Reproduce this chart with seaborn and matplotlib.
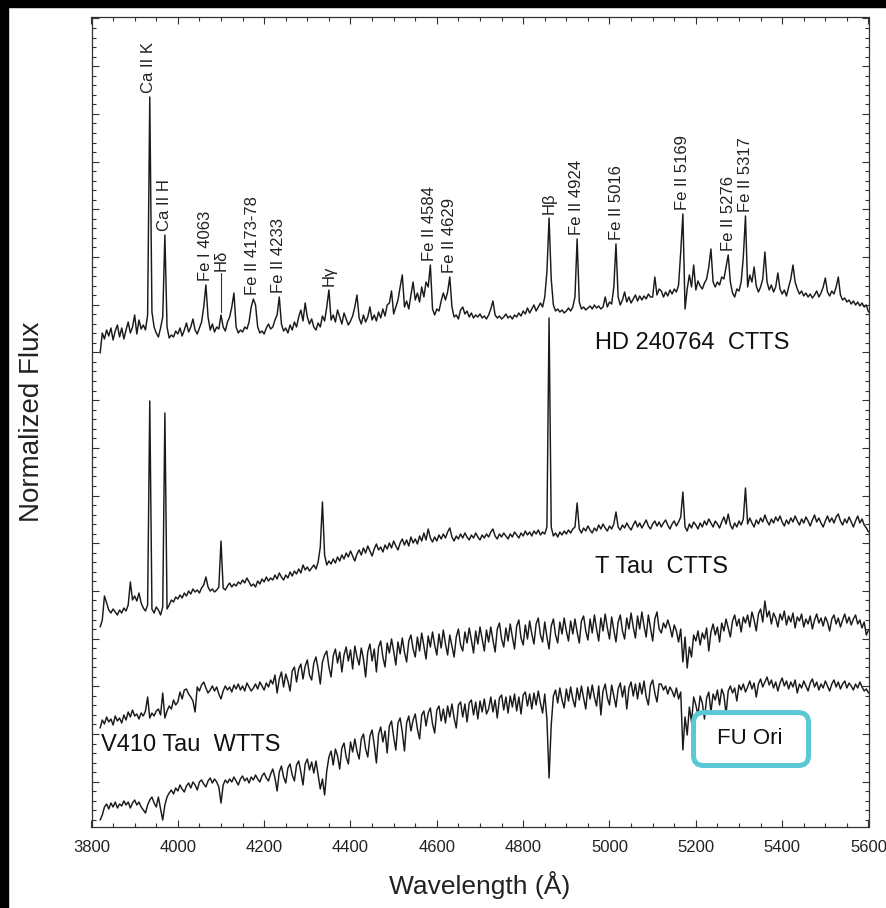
import numpy as np
import pandas as pd
import matplotlib
matplotlib.use("Agg")
import matplotlib.pyplot as plt
from matplotlib.patches import Rectangle, FancyBboxPatch
from matplotlib.ticker import MultipleLocator, FixedLocator, NullFormatter
import seaborn as sns

# Wavelength sampling of the spectra (Angstrom)
wave_start, wave_stop, wave_step = 3820, 5600, 5

# Offset-stacked normalized flux, one value per wavelength sample
hd240764 = [
    474, 494, 488, 497, 491, 499, 487, 496, 502, 490, 499, 488, 497, 505, 494, 500, 512, 493, 507, 498,
    502, 497, 512, 730, 515, 500, 494, 490, 499, 510, 592, 500, 489, 492, 490, 496, 493, 499, 491, 497,
    504, 495, 500, 508, 497, 493, 499, 505, 520, 542, 510, 497, 503, 495, 500, 498, 512, 500, 496, 505,
    510, 520, 534, 500, 494, 497, 495, 500, 498, 505, 520, 528, 522, 500, 494, 496, 493, 499, 503, 498,
    500, 507, 512, 530, 503, 496, 499, 494, 502, 497, 505, 500, 510, 517, 506, 524, 510, 503, 508, 500,
    497, 504, 500, 511, 506, 520, 537, 507, 512, 505, 517, 510, 503, 514, 508, 502, 506, 511, 520, 532,
    509, 503, 512, 505, 510, 520, 507, 512, 506, 515, 509, 518, 511, 522, 524, 536, 513, 520, 527, 540,
    552, 520, 526, 518, 532, 545, 527, 534, 525, 540, 530, 545, 540, 562, 518, 512, 518, 516, 526, 534,
    527, 535, 550, 520, 510, 512, 508, 517, 520, 513, 516, 510, 514, 509, 512, 510, 513, 509, 511, 508,
    512, 518, 526, 512, 509, 511, 508, 510, 513, 509, 511, 508, 512, 510, 514, 511, 516, 513, 519, 514,
    518, 522, 516, 520, 524, 520, 530, 555, 609, 548, 522, 516, 518, 515, 517, 514, 516, 519, 516, 520,
    530, 588, 525, 518, 520, 517, 519, 521, 518, 522, 519, 521, 518, 520, 530, 520, 525, 523, 540, 583,
    530, 522, 527, 535, 525, 530, 524, 528, 532, 526, 531, 527, 531, 528, 533, 530, 530, 550, 532, 538,
    536, 530, 535, 531, 537, 533, 538, 535, 542, 575, 613, 518, 538, 552, 540, 562, 537, 546, 541, 538,
    544, 548, 560, 578, 545, 540, 545, 542, 550, 548, 560, 572, 545, 534, 530, 538, 536, 545, 570, 611,
    540, 552, 545, 560, 541, 535, 540, 548, 575, 545, 537, 542, 535, 540, 554, 538, 533, 537, 531, 540,
    548, 562, 545, 538, 533, 536, 531, 534, 530, 533, 529, 532, 536, 530, 534, 540, 549, 535, 531, 536,
    533, 540, 550, 532, 527, 529, 525, 527, 523, 526, 522, 525, 521, 524, 520, 522, 515,
]

t_tau = [
    200, 207, 231, 224, 217, 214, 218, 215, 212, 217, 214, 219, 216, 222, 245, 227, 231, 226, 234, 224,
    219, 216, 222, 426, 218, 214, 220, 217, 212, 220, 414, 218, 222, 227, 225, 230, 228, 232, 229, 234,
    231, 236, 233, 238, 235, 237, 234, 239, 242, 250, 240, 236, 238, 235, 237, 240, 286, 239, 237, 241,
    244, 240, 243, 241, 245, 243, 247, 244, 249, 245, 241, 243, 240, 246, 243, 248, 245, 250, 246, 249,
    247, 252, 248, 254, 250, 247, 252, 249, 255, 251, 256, 253, 258, 254, 262, 257, 260, 256, 259, 262,
    258, 265, 280, 325, 272, 262, 266, 263, 268, 264, 270, 266, 272, 268, 274, 270, 276, 271, 266, 273,
    277, 272, 279, 274, 281, 276, 271, 278, 283, 277, 280, 275, 282, 278, 284, 279, 286, 281, 277, 284,
    288, 282, 287, 281, 290, 284, 288, 283, 291, 286, 294, 287, 298, 289, 285, 290, 286, 292, 288, 293,
    289, 295, 299, 290, 286, 291, 288, 293, 289, 294, 290, 287, 292, 289, 294, 290, 287, 292, 289, 293,
    290, 295, 298, 291, 288, 293, 290, 294, 291, 288, 293, 290, 295, 292, 289, 294, 291, 296, 292, 295,
    291, 296, 293, 297, 292, 295, 293, 300, 509, 300, 291, 294, 290, 295, 292, 296, 293, 297, 294, 298,
    300, 324, 298, 294, 299, 296, 301, 297, 294, 299, 296, 302, 298, 303, 299, 296, 301, 298, 303, 315,
    300, 297, 302, 299, 304, 300, 297, 302, 306, 300, 304, 299, 303, 307, 301, 298, 303, 306, 301, 305,
    300, 304, 307, 302, 298, 303, 306, 301, 305, 310, 335, 300, 296, 303, 299, 305, 302, 298, 304, 300,
    306, 302, 308, 304, 300, 306, 303, 299, 305, 310, 303, 313, 302, 298, 304, 300, 306, 302, 308, 339,
    303, 309, 304, 300, 307, 303, 309, 305, 312, 306, 302, 308, 304, 310, 306, 311, 305, 301, 307, 303,
    309, 305, 311, 306, 302, 308, 304, 310, 306, 301, 307, 312, 305, 309, 304, 300, 306, 311, 305, 309,
    304, 310, 313, 306, 302, 308, 304, 310, 305, 300, 306, 311, 304, 308, 302, 299, 295,
]

v410_tau = [
    99, 107, 103, 110, 105, 108, 102, 111, 106, 109, 104, 112, 107, 115, 110, 117, 111, 113, 108, 114,
    111, 116, 130, 109, 114, 111, 116, 118, 112, 134, 109, 116, 121, 118, 127, 122, 125, 135, 128, 137,
    138, 133, 130, 126, 115, 140, 136, 142, 145, 139, 134, 137, 141, 136, 140, 133, 128, 136, 141, 137,
    140, 135, 142, 138, 143, 137, 141, 136, 144, 140, 136, 139, 143, 138, 145, 141, 137, 144, 140, 147,
    143, 152, 134, 148, 155, 140, 153, 146, 136, 156, 160, 145, 158, 163, 148, 161, 167, 152, 147, 164,
    170, 158, 143, 165, 172, 176, 160, 150, 171, 178, 164, 175, 155, 172, 180, 166, 177, 158, 181, 170,
    162, 179, 168, 150, 175, 183, 166, 178, 155, 180, 186, 170, 160, 184, 174, 188, 176, 162, 185, 173,
    189, 175, 165, 186, 192, 178, 170, 190, 176, 194, 181, 168, 191, 180, 195, 182, 172, 193, 179, 197,
    183, 172, 192, 181, 170, 190, 198, 182, 176, 195, 184, 199, 187, 174, 196, 183, 200, 188, 176, 197,
    185, 200, 187, 175, 198, 204, 188, 180, 199, 186, 203, 190, 178, 201, 207, 189, 182, 202, 188, 206,
    193, 183, 203, 209, 192, 185, 205, 190, 178, 201, 208, 192, 184, 205, 193, 209, 196, 186, 206, 193,
    208, 195, 184, 206, 211, 196, 187, 208, 194, 212, 198, 186, 209, 196, 213, 199, 188, 210, 197, 185,
    205, 212, 196, 188, 209, 198, 214, 200, 189, 211, 198, 215, 201, 190, 212, 199, 186, 208, 215, 198,
    194, 204, 199, 207, 200, 190, 202, 196, 185, 198, 165, 190, 159, 180, 170, 192, 186, 196, 182, 194,
    188, 199, 176, 195, 203, 192, 200, 185, 204, 196, 208, 199, 190, 206, 212, 201, 208, 195, 210, 204,
    212, 200, 215, 207, 196, 213, 218, 205, 226, 210, 216, 203, 214, 209, 200, 213, 207, 216, 202, 211,
    205, 214, 199, 210, 206, 213, 200, 208, 203, 211, 198, 207, 213, 204, 209, 201, 210, 205, 196, 208,
    212, 203, 209, 200, 207, 213, 204, 210, 202, 208, 212, 203, 207, 199, 205, 192, 197,
]

fu_ori = [
    7, 12, 20, 23, 18, 24, 20, 25, 19, 23, 21, 26, 22, 25, 19, 24, 27, 22, 25, 20,
    17, 14, 22, 27, 30, 24, 20, 30, 18, 7, 22, 30, 34, 37, 33, 39, 36, 42, 38, 35,
    41, 44, 39, 45, 42, 37, 45, 47, 43, 40, 46, 49, 44, 48, 45, 40, 24, 42, 47, 44,
    48, 45, 50, 46, 42, 48, 51, 46, 49, 44, 50, 47, 52, 48, 45, 51, 54, 49, 46, 53,
    58, 49, 36, 55, 61, 50, 44, 59, 63, 52, 46, 62, 66, 55, 42, 63, 68, 57, 65, 54,
    66, 52, 38, 48, 32, 56, 70, 76, 62, 78, 71, 58, 79, 84, 70, 63, 85, 75, 88, 76,
    68, 88, 93, 78, 70, 91, 97, 82, 64, 93, 100, 85, 96, 74, 101, 106, 90, 77, 104, 109,
    95, 76, 104, 111, 96, 107, 113, 98, 88, 112, 116, 101, 114, 119, 103, 94, 117, 121, 106, 118,
    104, 121, 110, 123, 109, 99, 122, 125, 110, 123, 105, 124, 127, 112, 125, 108, 126, 115, 128, 113,
    118, 130, 115, 127, 109, 129, 132, 117, 130, 114, 131, 120, 133, 116, 130, 113, 132, 135, 121, 133,
    118, 134, 122, 136, 124, 114, 133, 108, 49, 102, 131, 137, 124, 139, 127, 119, 138, 126, 140, 128,
    120, 139, 127, 141, 129, 118, 140, 128, 142, 130, 121, 141, 112, 136, 143, 129, 122, 142, 131, 120,
    138, 144, 130, 141, 118, 139, 145, 131, 143, 128, 144, 133, 146, 130, 122, 142, 147, 134, 125, 143,
    143, 137, 141, 133, 140, 136, 130, 139, 128, 135, 77, 110, 92, 120, 105, 130, 122, 112, 131, 124,
    108, 129, 135, 115, 133, 127, 137, 122, 138, 132, 113, 136, 141, 134, 139, 126, 142, 137, 143, 135,
    140, 146, 138, 144, 130, 143, 148, 140, 145, 150, 142, 147, 139, 145, 136, 144, 149, 141, 146, 138,
    145, 140, 147, 134, 143, 139, 146, 141, 136, 144, 148, 140, 145, 137, 143, 139, 146, 141, 136, 143,
    147, 140, 145, 138, 143, 146, 139, 144, 141, 137, 143, 139, 145, 140, 136, 138, 134,
]

star_names = ["HD 240764", "T Tau", "V410 Tau", "FU Ori"]

# Emission lines identified in HD 240764
line_names = ["Ca II K", "Ca II H", "Fe I 4063", "Hδ", "Fe II 4173-78", "Fe II 4233",
              "Hγ", "Fe II 4584", "Fe II 4629", "Hβ", "Fe II 4924", "Fe II 5016",
              "Fe II 5169", "Fe II 5276", "Fe II 5317"]
line_waves = [3933, 3969, 4063, 4101, 4174, 4233, 4350, 4584, 4629, 4860, 4924, 5017,
              5169, 5276, 5316]

x_ticks = [3800, 4000, 4200, 4400, 4600, 4800, 5000, 5200, 5400, 5600]

wavelength = np.arange(wave_start, wave_stop + 1, wave_step)
spectra = [hd240764, t_tau, v410_tau, fu_ori]
df = pd.concat(
    [pd.DataFrame({"wavelength": wavelength, "flux": flux, "star": name})
     for name, flux in zip(star_names, spectra)],
    ignore_index=True,
)

sns.set_style("ticks")
plt.rcParams["font.family"] = ["Liberation Sans", "DejaVu Sans"]
ink = "#1a1a1a"

fig = plt.figure(figsize=(8.86, 9.08), dpi=100)
ax = fig.add_axes([91.5 / 886, 1 - 827 / 908, 777 / 886, 810 / 908])

sns.lineplot(data=df, x="wavelength", y="flux", units="star", estimator=None,
             color=ink, lw=1.05, ax=ax, legend=False)

ax.set_xlim(3800, 5600)
ax.set_ylim(0, 810)
ax.set_xticks(x_ticks)
ax.xaxis.set_minor_locator(MultipleLocator(50))
ax.yaxis.set_major_locator(FixedLocator(np.arange(45.3 - 47.7, 811, 47.7)))
ax.yaxis.set_minor_locator(FixedLocator(np.arange(45.3 - 47.7, 811, 9.54)))
ax.yaxis.set_major_formatter(NullFormatter())
ax.tick_params(which="both", direction="in", top=True, right=True,
               width=0.8, color="#333333")
ax.tick_params(which="major", length=5)
ax.tick_params(which="minor", length=3)
ax.tick_params(axis="x", labelsize=12, pad=9, labelcolor="#222222")
for sp in ax.spines.values():
    sp.set_linewidth(0.9)
    sp.set_color("#333333")

ax.set_xlabel("Wavelength (Å)", fontsize=19, labelpad=12, color="#222222")
ax.set_ylabel("Normalized Flux", fontsize=20, labelpad=30, color="#222222")

# Line identifications above the HD 240764 emission peaks
hd_flux = np.asarray(hd240764)
for name, w in zip(line_names, line_waves):
    near = np.abs(wavelength - w) <= 6
    peak = hd_flux[near].max()
    if name == "Hδ":
        ax.plot([w, w], [peak + 3, peak + 42], color="#333333", lw=0.8)
        ax.text(w, peak + 44, name, rotation=90, ha="center", va="bottom",
                fontsize=12, color="#222222")
    else:
        ax.annotate(name, (w, peak), xytext=(0, 3), textcoords="offset points",
                    rotation=90, ha="center", va="bottom", fontsize=12,
                    color="#222222")

# Star names
ax.text(4967, 484, "HD 240764  CTTS", fontsize=17, va="center", color="#111111")
ax.text(4967, 260, "T Tau  CTTS", fontsize=17, va="center", color="#111111")
ax.text(3821, 82, "V410 Tau  WTTS", fontsize=17, va="center", color="#111111")
ax.text(5324, 88, "FU Ori", fontsize=16, ha="center", va="center", color="#111111")
ax.add_patch(FancyBboxPatch((0.7748, 0.0759), 0.148, 0.0654,
                            boxstyle="round,pad=0,rounding_size=0.0129",
                            mutation_aspect=0.959, transform=ax.transAxes,
                            fc="none", ec="#5bc8d6", lw=3.6, zorder=5))

# Dark frame along the top and left edges
fig.patches.append(Rectangle((0, 1 - 7 / 908), 1, 7 / 908, transform=fig.transFigure,
                             color="black", zorder=10))
fig.patches.append(Rectangle((0, 0), 8 / 886, 1, transform=fig.transFigure,
                             color="black", zorder=10))

fig.savefig("out.png", dpi=100)
